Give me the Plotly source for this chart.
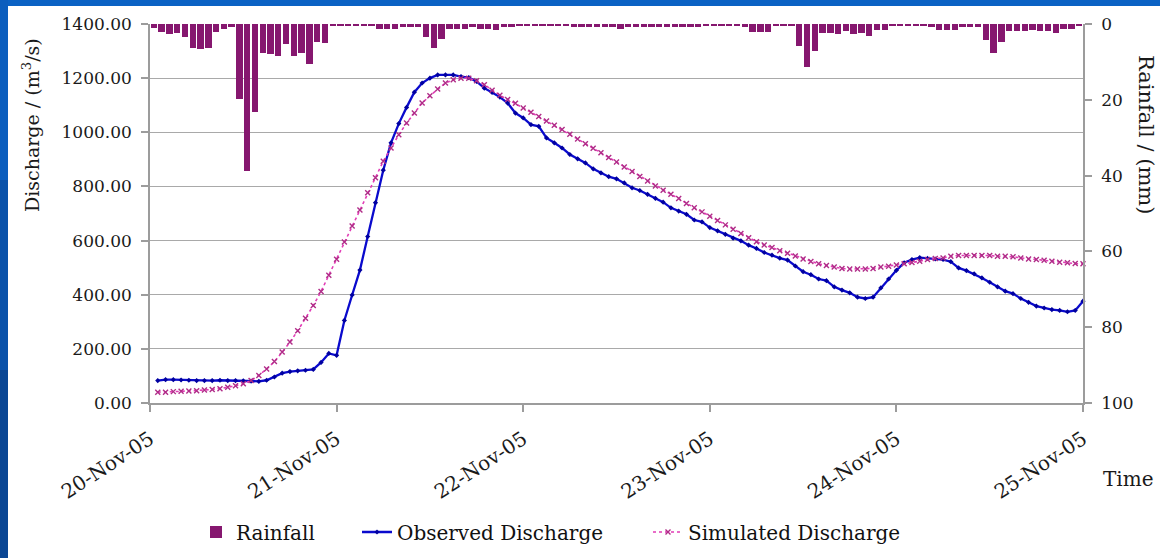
import pandas as pd
import plotly.graph_objects as go

# ---------------- data ----------------
# hourly rainfall (mm), hour ending 20-Nov-05 01:00 ... 25-Nov-05 00:00
rain_mm = [
    1.1, 2.1, 2.6, 2.4, 3.4, 6.2, 6.5, 6.2, 2.1, 1.4, 0.9, 19.8,
    38.9, 23.3, 7.6, 7.9, 8.5, 5.3, 8.5, 7.6, 10.6, 4.7, 5.1, 0.6,
    0.6, 0.5, 0.5, 0.5, 0.5, 1.3, 1.3, 1.3, 0.8, 0.8, 0.8, 3.5,
    6.3, 4.0, 1.3, 1.3, 1.3, 0.8, 1.3, 1.3, 1.6, 0.8, 0.8, 0.6,
    0.6, 0.5, 0.5, 0.5, 0.5, 0.6, 0.8, 0.8, 0.8, 0.8, 0.8, 0.8,
    1.2, 0.8, 0.8, 0.8, 0.8, 0.8, 0.8, 0.8, 0.8, 0.8, 0.7, 0.5,
    0.5, 0.5, 0.6, 0.6, 0.9, 2.1, 2.1, 2.1, 0.6, 0.6, 0.6, 5.9,
    11.4, 7.0, 2.3, 2.3, 2.6, 1.8, 2.6, 2.3, 3.2, 1.5, 1.5, 0.6,
    0.5, 0.5, 0.5, 0.5, 0.9, 1.5, 1.5, 1.5, 0.8, 0.8, 0.8, 4.1,
    7.7, 4.7, 1.8, 1.9, 1.9, 1.5, 1.9, 1.9, 2.3, 1.3, 1.3, 0.6,
]

# hourly discharge (m3/s), 20-Nov-05 01:00 ... 25-Nov-05 00:00
observed = [
    83, 86, 86, 85, 84, 83, 83, 83, 84, 83, 83, 82,
    81, 80, 84, 96, 110, 116, 119, 121, 124, 150, 183, 176,
    305, 399, 491, 615, 740, 860, 961, 1032, 1092, 1148, 1182, 1200,
    1212, 1212, 1212, 1206, 1202, 1188, 1163, 1147, 1130, 1108, 1071, 1053,
    1028, 1022, 979, 961, 942, 918, 902, 887, 865, 850, 836, 828,
    813, 795, 785, 771, 756, 742, 721, 709, 697, 676, 669, 648,
    636, 623, 609, 599, 583, 571, 556, 546, 535, 528, 506, 485,
    474, 458, 452, 429, 417, 407, 391, 386, 391, 425, 458, 490,
    518, 530, 537, 534, 532, 530, 522, 499, 489, 477, 462, 446,
    429, 413, 404, 386, 372, 358, 351, 345, 342, 337, 342, 376,
]

simulated = [
    40, 40, 42, 43, 44, 45, 48, 50, 53, 58, 64, 71,
    83, 102, 126, 153, 188, 225, 267, 313, 360, 412, 472, 531,
    595, 654, 713, 777, 832, 893, 942, 991, 1034, 1071, 1108, 1135,
    1160, 1182, 1194, 1200, 1200, 1190, 1176, 1155, 1137, 1121, 1107, 1090,
    1074, 1058, 1042, 1026, 1010, 993, 975, 958, 941, 924, 907, 890,
    872, 855, 837, 820, 802, 786, 771, 755, 737, 721, 706, 690,
    674, 658, 642, 626, 610, 596, 584, 574, 562, 553, 543, 532,
    523, 514, 508, 502, 497, 495, 495, 495, 497, 502, 505, 510,
    514, 519, 524, 530, 534, 536, 542, 545, 545, 545, 545, 545,
    542, 542, 540, 536, 532, 530, 527, 524, 520, 518, 515, 514,
]

tick_dates = ["2005-11-20", "2005-11-21", "2005-11-22",
              "2005-11-23", "2005-11-24", "2005-11-25"]
tick_labels = ["20-Nov-05", "21-Nov-05", "22-Nov-05",
               "23-Nov-05", "24-Nov-05", "25-Nov-05"]

line_times = pd.date_range("2005-11-20 01:00", periods=len(observed), freq="h")
bar_times = pd.date_range("2005-11-20 00:30", periods=len(rain_mm), freq="h")

# ---------------- figure ----------------
FONT = "DejaVu Serif"
GRID = "#a9a9a9"
AXIS = "#9c9c9c"

fig = go.Figure()
fig.add_trace(go.Bar(
    x=bar_times, y=rain_mm, name="Rainfall", yaxis="y2",
    width=0.82 * 3600 * 1000,
    marker=dict(color="#86176F", line=dict(width=0)),
    legend="legend", showlegend=True,
))
fig.add_trace(go.Scatter(
    x=line_times, y=observed, name="Observed Discharge",
    mode="lines+markers",
    line=dict(color="#0A0ACD", width=2.3),
    marker=dict(symbol="diamond", size=4, color="#0000A0"),
    cliponaxis=False, legend="legend2", showlegend=True,
))
fig.add_trace(go.Scatter(
    x=line_times, y=simulated, name="Simulated Discharge",
    mode="lines+markers",
    line=dict(color="#E23CB6", width=1.6, dash="dot"),
    marker=dict(symbol="x-thin", size=5, color="#B02C88",
                line=dict(width=1.4, color="#B02C88")),
    cliponaxis=False, legend="legend3", showlegend=True,
))

L, R, T, B = 150, 77, 24, 155
W, H = 1160, 558
pw, ph = W - L - R, H - T - B


def px(xp):
    return (xp - L) / pw


def py(yp):
    return (H - B - yp) / ph


leg_common = dict(orientation="h", yanchor="middle", xanchor="left",
                  y=py(532), bgcolor="rgba(0,0,0,0)", visible=True,
                  font=dict(family=FONT, size=20, color="#111111"))

fig.update_layout(
    width=W, height=H,
    margin=dict(l=L, r=R, t=T, b=B, autoexpand=False),
    paper_bgcolor="white", plot_bgcolor="white",
    font=dict(family=FONT, size=18, color="#1a1a1a"),
    showlegend=True,
    bargap=0,
    legend=dict(x=px(196), **leg_common),
    legend2=dict(x=px(357), **leg_common),
    legend3=dict(x=px(648), **leg_common),
    xaxis=dict(
        type="date", range=["2005-11-20", "2005-11-25"],
        tickvals=tick_dates, ticktext=tick_labels, tickangle=-33,
        ticks="outside", ticklen=7, tickcolor=AXIS, tickwidth=1.5,
        ticklabelstandoff=8,
        showline=True, linecolor=AXIS, linewidth=1.5,
        showgrid=False, zeroline=False,
        tickfont=dict(family=FONT, size=20, color="#1a1a1a"),
    ),
    yaxis=dict(
        range=[0, 1400], dtick=200, tickformat=".2f",
        showgrid=True, gridcolor=GRID, gridwidth=1.3,
        showline=True, linecolor=AXIS, linewidth=1.5,
        ticks="outside", ticklen=7, tickcolor=AXIS, tickwidth=1.5,
        ticklabelstandoff=6, zeroline=False,
        tickfont=dict(family=FONT, size=17, color="#1a1a1a"),
    ),
    yaxis2=dict(
        overlaying="y", side="right", range=[100, 0], dtick=20,
        showgrid=False, showline=True, linecolor=AXIS, linewidth=1.5,
        ticks="outside", ticklen=7, tickcolor=AXIS, tickwidth=1.5,
        ticklabelstandoff=6, zeroline=False,
        tickfont=dict(family=FONT, size=17, color="#1a1a1a"),
    ),
    annotations=[
        dict(text="Discharge / (m<sup>3</sup>/s)", xref="paper", yref="paper",
             x=px(31), y=py(125), xanchor="center", yanchor="middle",
             textangle=-90, showarrow=False,
             font=dict(family=FONT, size=19, color="#1a1a1a")),
        dict(text="Rainfall / (mm)", xref="paper", yref="paper",
             x=px(1146), y=py(134), xanchor="center", yanchor="middle",
             textangle=90, showarrow=False,
             font=dict(family=FONT, size=21, color="#1a1a1a")),
        dict(text="Time", xref="paper", yref="paper",
             x=px(1128), y=py(479), xanchor="center", yanchor="middle",
             showarrow=False,
             font=dict(family=FONT, size=20, color="#1a1a1a")),
    ],
    shapes=[
        # slide background frame (top and left edges)
        dict(type="rect", xref="paper", yref="paper", layer="above",
             x0=px(0), x1=px(W), y0=py(6), y1=py(0),
             fillcolor="#0B62C4", line=dict(width=0)),
        dict(type="rect", xref="paper", yref="paper", layer="above",
             x0=px(0), x1=px(8), y0=py(180), y1=py(0),
             fillcolor="#0B5EBE", line=dict(width=0)),
        dict(type="rect", xref="paper", yref="paper", layer="above",
             x0=px(0), x1=px(8), y0=py(370), y1=py(180),
             fillcolor="#0A52AA", line=dict(width=0)),
        dict(type="rect", xref="paper", yref="paper", layer="above",
             x0=px(0), x1=px(8), y0=py(H), y1=py(370),
             fillcolor="#0A4694", line=dict(width=0)),
    ],
)

fig.write_html("out.html")
